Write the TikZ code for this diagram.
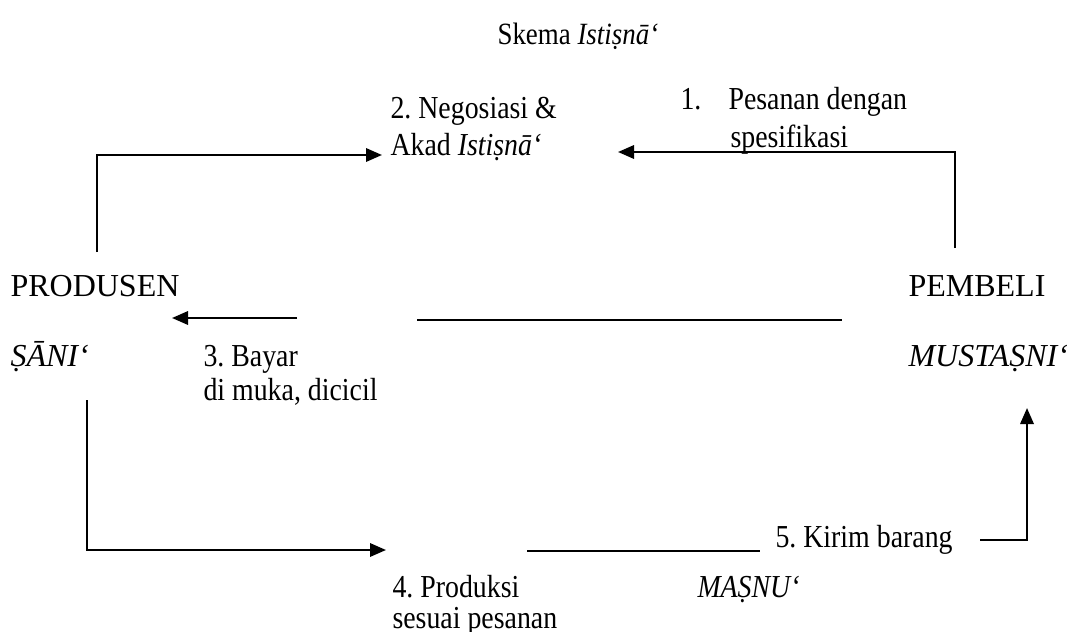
\documentclass[tikz,border=0pt]{standalone}
\usepackage{fontspec}
\setmainfont{Liberation Serif}
\newfontfamily\sempit[FakeStretch=0.87]{Liberation Serif}
\usetikzlibrary{arrows.meta}

\begin{document}
\frenchspacing
\begin{tikzpicture}[
  x=0.375pt, y=-0.375pt,
  font=\fontsize{12}{14}\selectfont,
  txt/.style={inner sep=0pt, anchor=base west},
  lbl/.style={txt, font=\fontsize{12}{14}\selectfont\sempit},
  arr/.style={-{Triangle[length=6pt, width=5pt]}, line width=0.85pt},
  seg/.style={line width=0.8pt}]

  \useasboundingbox (0,0) rectangle (1076,631);

  % title
  \node[lbl, font=\fontsize{11.6}{14}\selectfont\sempit] (judul) at (497,45) {Skema \textit{Istiṣnā‘}};

  % parties
  \node[txt] (produsen) at (10,296) {PRODUSEN};
  \node[txt] (sani) at (10,366) {\textit{ṢĀNI‘}};
  \node[txt] (pembeli) at (908,296) {PEMBELI};
  \node[txt] (mustasni) at (908,366) {\textit{MUSTAṢNI‘}};
  \node[lbl] (masnu) at (697,597) {\textit{MAṢNU‘}};

  % steps
  \node[lbl] (satu) at (680,110) {1.};
  \node[lbl] (pesan) at (728,110) {Pesanan dengan};
  \node[lbl] (spes) at (730,148) {spesifikasi};
  \node[lbl] (negos) at (390,119) {2. Negosiasi \&};
  \node[lbl] (akad) at (390,155) {Akad \textit{Istiṣnā‘}};
  \node[lbl] (bayar) at (203,366) {3. Bayar};
  \node[lbl] (muka) at (203,400) {di muka, dicicil};
  \node[lbl] (produksi) at (392,597) {4. Produksi};
  \node[lbl] (sesuai) at (392,628) {sesuai pesanan};
  \node[lbl] (kirim) at (775,547) {5. Kirim barang};

  % ends of the flows
  \coordinate (kiri) at (97,252);
  \coordinate (keakad) at (382,155);
  \coordinate (kanan) at (955,248);
  \coordinate (kepesan) at (618,152);
  \coordinate (bayar1) at (297,318);
  \coordinate (bayar0) at (172,318);
  \coordinate (garis1) at (417,320);
  \coordinate (garis2) at (842,320);
  \coordinate (turun) at (87,400);
  \coordinate (keprod) at (386,550);
  \coordinate (garis3) at (527,551);
  \coordinate (garis4) at (760,551);
  \coordinate (kirim1) at (980,540);
  \coordinate (kembeli) at (1027,408);

  % flows
  \draw[arr] (kiri) |- (keakad);
  \draw[arr] (kanan) |- (kepesan);
  \draw[arr] (bayar1) -- (bayar0);
  \draw[seg] (garis1) -- (garis2);
  \draw[arr] (turun) |- (keprod);
  \draw[seg] (garis3) -- (garis4);
  \draw[arr] (kirim1) -| (kembeli);
\end{tikzpicture}
\end{document}
